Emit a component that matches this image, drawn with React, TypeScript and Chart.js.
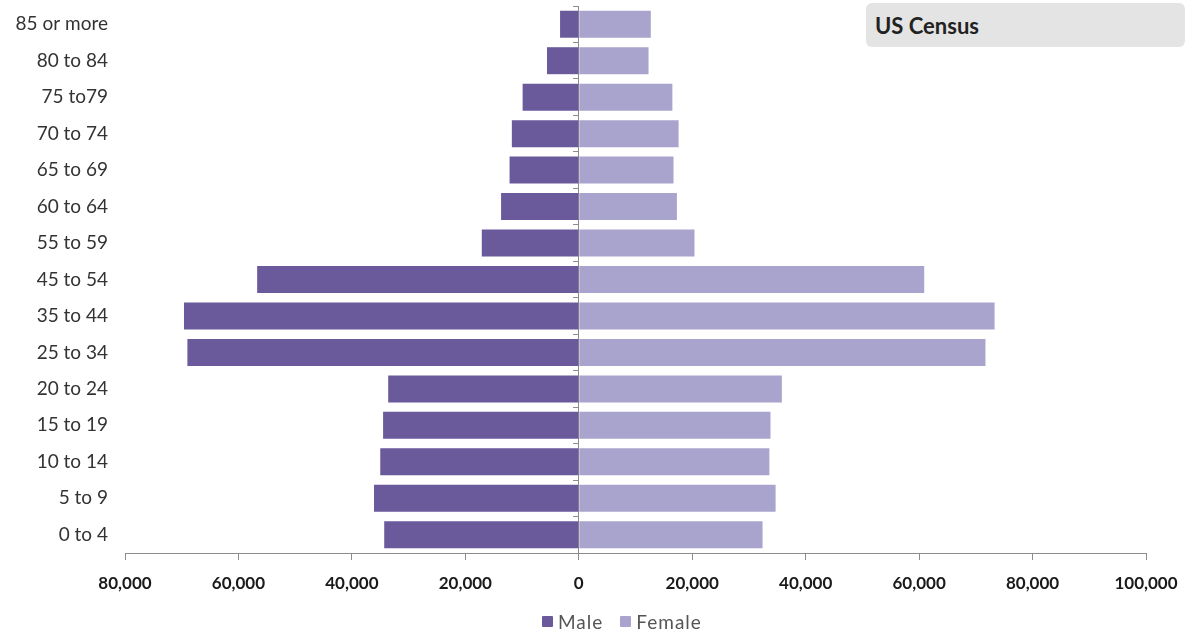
import React, { useEffect, useRef } from "react";
import { Chart, registerables } from "chart.js";
Chart.register(...registerables);

const ageGroups = [
  "85 or more", "80 to 84", "75 to79", "70 to 74", "65 to 69", "60 to 64", "55 to 59",
  "45 to 54", "35 to 44", "25 to 34", "20 to 24", "15 to 19", "10 to 14", "5 to 9", "0 to 4",
];
const maleValues = [3300, 5600, 9900, 11800, 12200, 13700, 17100, 56700, 69600, 69000, 33600, 34500, 35000, 36100, 34300];
const femaleValues = [12700, 12300, 16500, 17600, 16700, 17300, 20400, 60900, 73300, 71700, 35800, 33800, 33600, 34700, 32400];
const xMin = -80000;
const xMax = 100000;
const xStep = 20000;

const maleColor = "#6a5a9c";
const femaleColor = "#a9a4cd";
const FONT = "Lato, 'Open Sans', sans-serif";

export default function App() {
  const ref = useRef<HTMLCanvasElement | null>(null);
  useEffect(() => {
    document.body.style.margin = "0";
    const ctx = ref.current!.getContext("2d")!;
    const chart = new Chart(ctx, {
      type: "bar",
      data: {
        labels: ageGroups,
        datasets: [
          {
            label: "Male",
            data: maleValues.map((v) => -v),
            backgroundColor: maleColor,
            borderWidth: 0,
            barPercentage: 0.74,
            categoryPercentage: 1,
            yAxisID: "y",
          },
          {
            label: "Female",
            data: femaleValues,
            backgroundColor: femaleColor,
            borderWidth: 0,
            barPercentage: 0.74,
            categoryPercentage: 1,
            yAxisID: "y",
          },
        ],
      },
      options: {
        indexAxis: "y",
        animation: false,
        responsive: false,
        maintainAspectRatio: false,
        layout: { padding: { left: 0, right: 49, top: 6, bottom: 0 } },
        plugins: {
          legend: { display: false },
          tooltip: { enabled: false },
          title: { display: false },
        },
        scales: {
          x: {
            type: "linear",
            stacked: true,
            min: xMin,
            max: xMax,
            border: { display: true, color: "#8c8c8c", width: 1 },
            grid: { display: true, drawOnChartArea: false, drawTicks: true, tickLength: 7, color: "#8c8c8c" },
            ticks: {
              stepSize: xStep,
              padding: 13,
              color: "#1a1a1a",
              font: { family: FONT, size: 17, weight: "bold" },
              callback: (v: any) => Math.abs(Number(v)).toLocaleString("en-US"),
            },
            afterFit: (s: any) => {
              s.height = 83;
              s.paddingLeft = 0;
              s.paddingRight = 0;
            },
          },
          y: {
            type: "category",
            stacked: true,
            position: "left",
            border: { display: false },
            grid: { display: false, drawTicks: false },
            ticks: {
              padding: 17,
              color: "#333333",
              font: { family: FONT, size: 19 },
            },
            afterFit: (s: any) => {
              s.width = 125;
              s.paddingTop = 0;
              s.paddingBottom = 0;
            },
          },
          y2: {
            type: "category",
            position: { x: 0 } as any,
            labels: ageGroups,
            offset: true,
            border: { display: true, color: "#8c8c8c", width: 1 },
            grid: { display: true, drawOnChartArea: false, drawTicks: true, tickLength: 5, offset: true, color: "#8c8c8c" },
            ticks: { display: false },
            afterFit: (s: any) => {
              s.paddingTop = 0;
              s.paddingBottom = 0;
            },
          },
        },
      },
    });
    return () => chart.destroy();
  }, []);

  return (
    <div style={{ position: "relative", width: 1195, height: 636, background: "#fff" }}>
      <canvas ref={ref} width={1195} height={636} style={{ display: "block" }} />
      <div
        style={{
          position: "absolute",
          left: 866,
          top: 3,
          width: 319,
          height: 44,
          background: "#e4e4e4",
          borderRadius: 6,
          boxSizing: "border-box",
          paddingLeft: 9,
          display: "flex",
          alignItems: "center",
          fontFamily: FONT,
          fontWeight: "bold",
          fontSize: 22,
          color: "#222",
        }}
      >
        US Census
      </div>
      <div
        style={{
          position: "absolute",
          left: 0,
          top: 610,
          width: 1195,
          display: "flex",
          justifyContent: "flex-start",
          paddingLeft: 542,
          boxSizing: "border-box",
          fontFamily: FONT,
          fontSize: 19,
          letterSpacing: 1,
          color: "#555",
          gap: 17,
        }}
      >
        {[
          ["Male", maleColor],
          ["Female", femaleColor],
        ].map(([name, color]) => (
          <div key={name} style={{ display: "flex", alignItems: "center", gap: 5 }}>
            <span style={{ display: "inline-block", width: 11, height: 11, background: color, borderRadius: 1 }} />
            <span>{name}</span>
          </div>
        ))}
      </div>
    </div>
  );
}
